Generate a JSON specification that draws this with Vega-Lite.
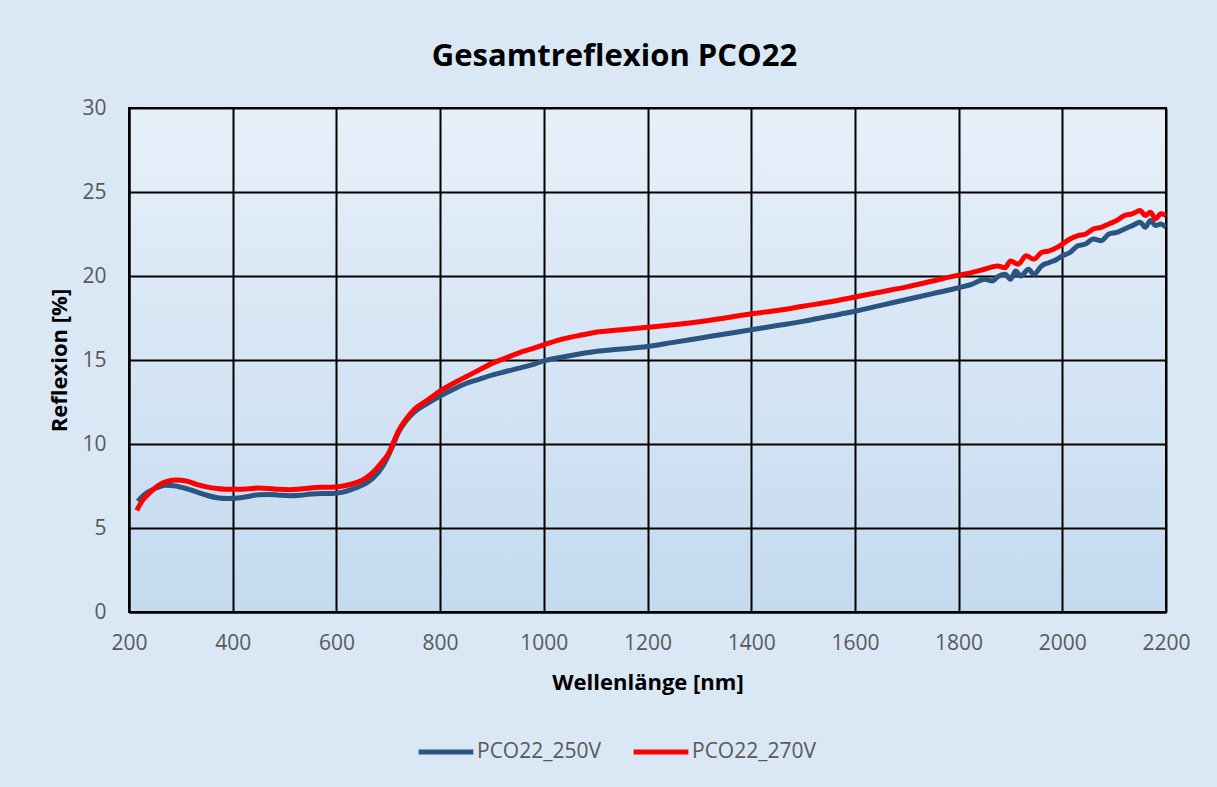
{
  "$schema": "https://vega.github.io/schema/vega-lite/v6.json",
  "width": 1037,
  "height": 504,
  "autosize": {"type": "none"},
  "padding": {"left": 129, "top": 108, "right": 51, "bottom": 175},
  "background": "#dae7f5",
  "title": {
    "text": "Gesamtreflexion PCO22",
    "font": "Open Sans",
    "fontSize": 31,
    "fontWeight": "bold",
    "color": "#000000",
    "anchor": "middle",
    "dx": -33,
    "offset": 24
  },
  "config": {
    "view": {
      "stroke": "#000000",
      "strokeWidth": 2,
      "fill": {
        "gradient": "linear",
        "x1": 0, "y1": 0, "x2": 0, "y2": 1,
        "stops": [
          {"offset": 0, "color": "#e7f0f9"},
          {"offset": 1, "color": "#c4daef"}
        ]
      }
    },
    "axis": {
      "grid": true,
      "gridColor": "#000000",
      "gridWidth": 2,
      "gridOpacity": 1,
      "domainColor": "#000000",
      "domainWidth": 2,
      "ticks": false,
      "labelFlush": false,
      "labelFont": "Open Sans",
      "labelFontSize": 21,
      "labelColor": "#595959",
      "titleFont": "Open Sans",
      "titleFontSize": 22,
      "titleFontWeight": "bold",
      "titleColor": "#000000"
    },
    "legend": {
      "labelFont": "Open Sans",
      "labelFontSize": 21,
      "labelColor": "#595959"
    }
  },
  "data": {
    "values": [
      {"nm": 217, "R": 6.6, "s": "PCO22_250V"},
      {"nm": 230, "R": 7.0, "s": "PCO22_250V"},
      {"nm": 250, "R": 7.35, "s": "PCO22_250V"},
      {"nm": 270, "R": 7.55, "s": "PCO22_250V"},
      {"nm": 290, "R": 7.5, "s": "PCO22_250V"},
      {"nm": 310, "R": 7.35, "s": "PCO22_250V"},
      {"nm": 330, "R": 7.15, "s": "PCO22_250V"},
      {"nm": 350, "R": 6.95, "s": "PCO22_250V"},
      {"nm": 370, "R": 6.8, "s": "PCO22_250V"},
      {"nm": 390, "R": 6.75, "s": "PCO22_250V"},
      {"nm": 410, "R": 6.78, "s": "PCO22_250V"},
      {"nm": 430, "R": 6.88, "s": "PCO22_250V"},
      {"nm": 450, "R": 6.98, "s": "PCO22_250V"},
      {"nm": 470, "R": 7.0, "s": "PCO22_250V"},
      {"nm": 490, "R": 6.95, "s": "PCO22_250V"},
      {"nm": 510, "R": 6.92, "s": "PCO22_250V"},
      {"nm": 530, "R": 6.95, "s": "PCO22_250V"},
      {"nm": 550, "R": 7.02, "s": "PCO22_250V"},
      {"nm": 570, "R": 7.06, "s": "PCO22_250V"},
      {"nm": 590, "R": 7.05, "s": "PCO22_250V"},
      {"nm": 610, "R": 7.12, "s": "PCO22_250V"},
      {"nm": 630, "R": 7.3, "s": "PCO22_250V"},
      {"nm": 650, "R": 7.55, "s": "PCO22_250V"},
      {"nm": 670, "R": 7.95, "s": "PCO22_250V"},
      {"nm": 690, "R": 8.7, "s": "PCO22_250V"},
      {"nm": 700, "R": 9.3, "s": "PCO22_250V"},
      {"nm": 710, "R": 10.0, "s": "PCO22_250V"},
      {"nm": 720, "R": 10.7, "s": "PCO22_250V"},
      {"nm": 735, "R": 11.4, "s": "PCO22_250V"},
      {"nm": 750, "R": 11.9, "s": "PCO22_250V"},
      {"nm": 775, "R": 12.4, "s": "PCO22_250V"},
      {"nm": 800, "R": 12.85, "s": "PCO22_250V"},
      {"nm": 825, "R": 13.25, "s": "PCO22_250V"},
      {"nm": 850, "R": 13.6, "s": "PCO22_250V"},
      {"nm": 875, "R": 13.85, "s": "PCO22_250V"},
      {"nm": 900, "R": 14.1, "s": "PCO22_250V"},
      {"nm": 925, "R": 14.3, "s": "PCO22_250V"},
      {"nm": 950, "R": 14.5, "s": "PCO22_250V"},
      {"nm": 975, "R": 14.7, "s": "PCO22_250V"},
      {"nm": 1000, "R": 14.95, "s": "PCO22_250V"},
      {"nm": 1050, "R": 15.25, "s": "PCO22_250V"},
      {"nm": 1100, "R": 15.5, "s": "PCO22_250V"},
      {"nm": 1150, "R": 15.65, "s": "PCO22_250V"},
      {"nm": 1200, "R": 15.8, "s": "PCO22_250V"},
      {"nm": 1250, "R": 16.05, "s": "PCO22_250V"},
      {"nm": 1300, "R": 16.3, "s": "PCO22_250V"},
      {"nm": 1350, "R": 16.55, "s": "PCO22_250V"},
      {"nm": 1400, "R": 16.8, "s": "PCO22_250V"},
      {"nm": 1450, "R": 17.05, "s": "PCO22_250V"},
      {"nm": 1500, "R": 17.3, "s": "PCO22_250V"},
      {"nm": 1550, "R": 17.6, "s": "PCO22_250V"},
      {"nm": 1600, "R": 17.9, "s": "PCO22_250V"},
      {"nm": 1650, "R": 18.25, "s": "PCO22_250V"},
      {"nm": 1700, "R": 18.6, "s": "PCO22_250V"},
      {"nm": 1750, "R": 18.95, "s": "PCO22_250V"},
      {"nm": 1800, "R": 19.3, "s": "PCO22_250V"},
      {"nm": 1825, "R": 19.5, "s": "PCO22_250V"},
      {"nm": 1850, "R": 19.8, "s": "PCO22_250V"},
      {"nm": 1865, "R": 19.7, "s": "PCO22_250V"},
      {"nm": 1875, "R": 19.95, "s": "PCO22_250V"},
      {"nm": 1890, "R": 20.1, "s": "PCO22_250V"},
      {"nm": 1900, "R": 19.8, "s": "PCO22_250V"},
      {"nm": 1910, "R": 20.3, "s": "PCO22_250V"},
      {"nm": 1920, "R": 20.0, "s": "PCO22_250V"},
      {"nm": 1935, "R": 20.4, "s": "PCO22_250V"},
      {"nm": 1945, "R": 20.1, "s": "PCO22_250V"},
      {"nm": 1960, "R": 20.6, "s": "PCO22_250V"},
      {"nm": 1975, "R": 20.8, "s": "PCO22_250V"},
      {"nm": 1990, "R": 21.0, "s": "PCO22_250V"},
      {"nm": 2000, "R": 21.2, "s": "PCO22_250V"},
      {"nm": 2015, "R": 21.4, "s": "PCO22_250V"},
      {"nm": 2030, "R": 21.8, "s": "PCO22_250V"},
      {"nm": 2045, "R": 21.9, "s": "PCO22_250V"},
      {"nm": 2060, "R": 22.2, "s": "PCO22_250V"},
      {"nm": 2075, "R": 22.1, "s": "PCO22_250V"},
      {"nm": 2090, "R": 22.5, "s": "PCO22_250V"},
      {"nm": 2105, "R": 22.6, "s": "PCO22_250V"},
      {"nm": 2120, "R": 22.8, "s": "PCO22_250V"},
      {"nm": 2135, "R": 23.0, "s": "PCO22_250V"},
      {"nm": 2150, "R": 23.2, "s": "PCO22_250V"},
      {"nm": 2160, "R": 22.9, "s": "PCO22_250V"},
      {"nm": 2170, "R": 23.3, "s": "PCO22_250V"},
      {"nm": 2180, "R": 23.0, "s": "PCO22_250V"},
      {"nm": 2190, "R": 23.1, "s": "PCO22_250V"},
      {"nm": 2200, "R": 22.9, "s": "PCO22_250V"},
      {"nm": 215, "R": 6.05, "s": "PCO22_270V"},
      {"nm": 225, "R": 6.6, "s": "PCO22_270V"},
      {"nm": 240, "R": 7.1, "s": "PCO22_270V"},
      {"nm": 255, "R": 7.5, "s": "PCO22_270V"},
      {"nm": 270, "R": 7.75, "s": "PCO22_270V"},
      {"nm": 290, "R": 7.85, "s": "PCO22_270V"},
      {"nm": 310, "R": 7.8, "s": "PCO22_270V"},
      {"nm": 330, "R": 7.6, "s": "PCO22_270V"},
      {"nm": 350, "R": 7.45, "s": "PCO22_270V"},
      {"nm": 370, "R": 7.35, "s": "PCO22_270V"},
      {"nm": 390, "R": 7.3, "s": "PCO22_270V"},
      {"nm": 410, "R": 7.3, "s": "PCO22_270V"},
      {"nm": 430, "R": 7.33, "s": "PCO22_270V"},
      {"nm": 450, "R": 7.38, "s": "PCO22_270V"},
      {"nm": 470, "R": 7.35, "s": "PCO22_270V"},
      {"nm": 490, "R": 7.3, "s": "PCO22_270V"},
      {"nm": 510, "R": 7.28, "s": "PCO22_270V"},
      {"nm": 530, "R": 7.32, "s": "PCO22_270V"},
      {"nm": 550, "R": 7.38, "s": "PCO22_270V"},
      {"nm": 570, "R": 7.42, "s": "PCO22_270V"},
      {"nm": 590, "R": 7.42, "s": "PCO22_270V"},
      {"nm": 610, "R": 7.48, "s": "PCO22_270V"},
      {"nm": 630, "R": 7.62, "s": "PCO22_270V"},
      {"nm": 650, "R": 7.85, "s": "PCO22_270V"},
      {"nm": 670, "R": 8.3, "s": "PCO22_270V"},
      {"nm": 690, "R": 9.0, "s": "PCO22_270V"},
      {"nm": 700, "R": 9.4, "s": "PCO22_270V"},
      {"nm": 710, "R": 10.1, "s": "PCO22_270V"},
      {"nm": 720, "R": 10.8, "s": "PCO22_270V"},
      {"nm": 735, "R": 11.5, "s": "PCO22_270V"},
      {"nm": 750, "R": 12.05, "s": "PCO22_270V"},
      {"nm": 775, "R": 12.6, "s": "PCO22_270V"},
      {"nm": 800, "R": 13.15, "s": "PCO22_270V"},
      {"nm": 825, "R": 13.6, "s": "PCO22_270V"},
      {"nm": 850, "R": 14.0, "s": "PCO22_270V"},
      {"nm": 875, "R": 14.4, "s": "PCO22_270V"},
      {"nm": 900, "R": 14.8, "s": "PCO22_270V"},
      {"nm": 925, "R": 15.1, "s": "PCO22_270V"},
      {"nm": 950, "R": 15.4, "s": "PCO22_270V"},
      {"nm": 975, "R": 15.65, "s": "PCO22_270V"},
      {"nm": 1000, "R": 15.9, "s": "PCO22_270V"},
      {"nm": 1025, "R": 16.15, "s": "PCO22_270V"},
      {"nm": 1050, "R": 16.35, "s": "PCO22_270V"},
      {"nm": 1075, "R": 16.5, "s": "PCO22_270V"},
      {"nm": 1100, "R": 16.65, "s": "PCO22_270V"},
      {"nm": 1150, "R": 16.8, "s": "PCO22_270V"},
      {"nm": 1200, "R": 16.95, "s": "PCO22_270V"},
      {"nm": 1250, "R": 17.1, "s": "PCO22_270V"},
      {"nm": 1300, "R": 17.28, "s": "PCO22_270V"},
      {"nm": 1350, "R": 17.5, "s": "PCO22_270V"},
      {"nm": 1400, "R": 17.75, "s": "PCO22_270V"},
      {"nm": 1450, "R": 17.95, "s": "PCO22_270V"},
      {"nm": 1500, "R": 18.2, "s": "PCO22_270V"},
      {"nm": 1550, "R": 18.45, "s": "PCO22_270V"},
      {"nm": 1600, "R": 18.75, "s": "PCO22_270V"},
      {"nm": 1650, "R": 19.05, "s": "PCO22_270V"},
      {"nm": 1700, "R": 19.35, "s": "PCO22_270V"},
      {"nm": 1750, "R": 19.7, "s": "PCO22_270V"},
      {"nm": 1800, "R": 20.05, "s": "PCO22_270V"},
      {"nm": 1825, "R": 20.2, "s": "PCO22_270V"},
      {"nm": 1850, "R": 20.4, "s": "PCO22_270V"},
      {"nm": 1875, "R": 20.6, "s": "PCO22_270V"},
      {"nm": 1890, "R": 20.5, "s": "PCO22_270V"},
      {"nm": 1900, "R": 20.9, "s": "PCO22_270V"},
      {"nm": 1915, "R": 20.7, "s": "PCO22_270V"},
      {"nm": 1930, "R": 21.2, "s": "PCO22_270V"},
      {"nm": 1945, "R": 21.0, "s": "PCO22_270V"},
      {"nm": 1960, "R": 21.4, "s": "PCO22_270V"},
      {"nm": 1975, "R": 21.5, "s": "PCO22_270V"},
      {"nm": 1990, "R": 21.7, "s": "PCO22_270V"},
      {"nm": 2000, "R": 21.9, "s": "PCO22_270V"},
      {"nm": 2015, "R": 22.2, "s": "PCO22_270V"},
      {"nm": 2030, "R": 22.4, "s": "PCO22_270V"},
      {"nm": 2045, "R": 22.5, "s": "PCO22_270V"},
      {"nm": 2060, "R": 22.8, "s": "PCO22_270V"},
      {"nm": 2075, "R": 22.9, "s": "PCO22_270V"},
      {"nm": 2090, "R": 23.1, "s": "PCO22_270V"},
      {"nm": 2105, "R": 23.3, "s": "PCO22_270V"},
      {"nm": 2120, "R": 23.6, "s": "PCO22_270V"},
      {"nm": 2135, "R": 23.7, "s": "PCO22_270V"},
      {"nm": 2150, "R": 23.9, "s": "PCO22_270V"},
      {"nm": 2160, "R": 23.6, "s": "PCO22_270V"},
      {"nm": 2170, "R": 23.8, "s": "PCO22_270V"},
      {"nm": 2180, "R": 23.4, "s": "PCO22_270V"},
      {"nm": 2190, "R": 23.7, "s": "PCO22_270V"},
      {"nm": 2200, "R": 23.6, "s": "PCO22_270V"}
    ]
  },
  "mark": {"type": "line", "strokeWidth": 5, "interpolate": "monotone", "clip": true},
  "encoding": {
    "x": {
      "field": "nm",
      "type": "quantitative",
      "scale": {"domain": [200, 2200], "nice": false, "zero": false},
      "axis": {
        "values": [200, 400, 600, 800, 1000, 1200, 1400, 1600, 1800, 2000, 2200],
        "format": "d",
        "title": "Wellenlänge [nm]",
        "labelPadding": 20,
        "titlePadding": 19
      }
    },
    "y": {
      "field": "R",
      "type": "quantitative",
      "scale": {"domain": [0, 30], "nice": false},
      "axis": {
        "values": [0, 5, 10, 15, 20, 25, 30],
        "title": "Reflexion [%]",
        "labelPadding": 23,
        "titlePadding": 10
      }
    },
    "color": {
      "field": "s",
      "type": "nominal",
      "scale": {"domain": ["PCO22_250V", "PCO22_270V"], "range": ["#2a5580", "#ff0000"]},
      "legend": {
        "title": null,
        "orient": "none",
        "direction": "horizontal",
        "legendX": 287,
        "legendY": 614,
        "symbolType": "stroke",
        "symbolSize": 3000,
        "symbolStrokeWidth": 5,
        "columnPadding": 22,
        "labelOffset": 1
      }
    }
  }
}
